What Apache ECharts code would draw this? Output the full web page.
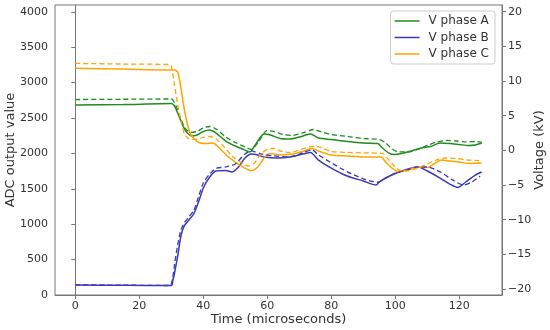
<!DOCTYPE html>
<html>
<head>
<meta charset="utf-8">
<script src="https://cdn.jsdelivr.net/npm/echarts@6/dist/echarts.min.js"></script>
<style>html,body{margin:0;padding:0;background:#fff}#c{width:550px;height:330px}</style>
</head>
<body>
<div id="c"></div>
<script>
// Tick labels
var xTicks = [0, 20, 40, 60, 80, 100, 120];
var adcTicks = [0, 500, 1000, 1500, 2000, 2500, 3000, 3500, 4000];
var kvTicks = [-20, -15, -10, -5, 0, 5, 10, 15, 20];

// Series names
var names = ['V phase A', 'V phase B', 'V phase C'];

// Phase A - ADC (solid, left axis)
var tA = [0,15,30,31,32,33,34,35,36.5,38,40,42,44,47,50,53,54.5,56,59,61,64,67,70,73.5,76,80,85,90,94.5,96,98,99.5,102,105,108,111,114,117,120,123,125,127];
var adcA = [2683,2690,2704,2669,2570,2457,2358,2287,2245,2259,2309,2330,2287,2175,2104,2047,2019,2104,2273,2259,2210,2203,2231,2273,2217,2196,2168,2146,2139,2076,2005,1984,1998,2033,2076,2097,2146,2139,2125,2111,2118,2146];
// Phase A - voltage (dashed, right axis)
var tAd = [0,15,30,30.5,31.5,32.5,33.5,34.5,36,38,40,42,44,47,50,53,55,57,60,62,65,68,71,74.5,77,80,85,90,95,97,99,101,104,107,110,113,116,119,122,125,127];
var kvA = [7.33,7.37,7.41,7.26,6.4,5.1,3.95,3.08,2.58,2.72,3.23,3.44,3.08,1.93,1.14,0.49,0.13,1.07,2.87,2.72,2.29,2.15,2.51,3.01,2.65,2.29,2.0,1.71,1.57,1.07,0.2,-0.23,-0.23,0.13,0.71,1.21,1.43,1.35,1.21,1.28,1.14];

// Phase B
var tB = [0,15,30,30.5,31,32,33,34,35.5,37,38.5,40,42,44,47,49,51,53,55,57,59,63,67,71,73.5,76,80,85,90,94,95,97,100,104,107,110,114,117,119.5,122,125,127];
var adcB = [141,138,134,212,311,551,833,974,1059,1144,1313,1511,1666,1751,1758,1737,1807,1934,1991,1977,1949,1934,1949,1991,2012,1906,1793,1680,1610,1553,1596,1652,1716,1779,1812,1751,1652,1567,1518,1596,1694,1737];
var tBd = [0,15,29.5,30.3,31,32,33,34,35.5,37,38.5,40,42,44,47,50,53,55,58,62,67,71,74,76,80,85,90,94.5,97,100,104,107,110,114,118,121.3,124,126.5];
var kvB = [-19.4,-19.45,-19.5,-18.7,-16.5,-13.6,-11.5,-10.5,-9.6,-8.7,-6.7,-4.7,-3.4,-2.6,-2.4,-1.96,-0.52,-0.09,-0.5,-0.8,-0.95,-0.37,0.06,-0.66,-1.8,-3.1,-4.1,-4.6,-4.0,-3.3,-2.8,-2.4,-2.4,-3.1,-4.3,-5.0,-4.55,-3.7];

// Phase C
var tC = [0,15,30,31,32,33,34,35,36,37.5,39,41,43,45,47.5,50,53,55,57,59.5,61,64,68,71,74,76,80,85,90,95.5,97,99,101,104,107,110,112,114.5,117,120,123,127];
var adcC = [3201,3191,3177,3177,3149,2923,2640,2415,2273,2189,2146,2139,2146,2076,1963,1878,1793,1758,1807,1963,1998,1977,1991,2026,2069,2033,1977,1963,1949,1949,1878,1793,1744,1765,1807,1800,1850,1906,1892,1878,1857,1864];
var tCd = [0,15,29.5,30,31,32,33,34,35.5,37.5,40,42,44,46.5,49,52,54,56,58,60,62,64.5,67,71,75,77,80,85,90,96,98,100,102,104,107,110,113,116,119,122,125,127];
var kvC = [12.55,12.45,12.38,12.16,9.42,6.54,4.24,2.51,1.64,1.57,1.86,2.0,1.64,0.49,-0.81,-1.82,-2.25,-1.82,-0.52,0.13,0.27,-0.16,-0.3,0.2,0.63,0.35,-0.16,-0.3,-0.37,-0.45,-1.38,-2.39,-2.97,-2.97,-2.54,-1.96,-1.38,-1.1,-1.17,-1.38,-1.46,-1.53];

var colors = ['#1e8c1e', '#3a3ab8', '#ffa500'];

function zip(t, v) { return t.map(function (x, i) { return [x, v[i]]; }); }

var FONT = 'DejaVu Sans';
var TXT = '#333';
var AX = '#777';

var solids = [[tA, adcA], [tB, adcB], [tC, adcC]];
var dashes = [[tAd, kvA], [tBd, kvB], [tCd, kvC]];
var series = [];
solids.forEach(function (s, i) {
  series.push({
    name: names[i], type: 'line', yAxisIndex: 0, data: zip(s[0], s[1]),
    showSymbol: false, symbol: 'none', smooth: 0.25, animation: false,
    lineStyle: { color: colors[i], width: 1.5 }, itemStyle: { color: colors[i] }
  });
});
dashes.forEach(function (s, i) {
  series.push({
    name: names[i] + ' (kV)', type: 'line', yAxisIndex: 1, data: zip(s[0], s[1]),
    showSymbol: false, symbol: 'none', smooth: 0.25, animation: false,
    lineStyle: { color: colors[i], width: 1.3, type: [5, 3] }, itemStyle: { color: colors[i] }
  });
});

function plain(v) { return v < 0 ? '\u2212' + Math.abs(v) : String(v); }

var chart = echarts.init(document.getElementById('c'), null, { renderer: 'canvas' });
chart.setOption({
  animation: false,
  backgroundColor: '#fff',
  textStyle: { fontFamily: FONT },
  grid: { left: 55, right: 48, top: 5, bottom: 35, containLabel: false, outerBoundsMode: 'none',
    show: true, borderColor: AX, borderWidth: 1, backgroundColor: 'transparent' },
  legend: {
    data: names, orient: 'vertical', right: 55, top: 11,
    icon: 'rect', itemWidth: 25, itemHeight: 1.5, itemGap: 4.5,
    padding: [4, 6, 4, 4],
    borderColor: '#ccc', borderWidth: 1, borderRadius: 3, backgroundColor: '#fff',
    textStyle: { fontFamily: FONT, fontSize: 12, color: TXT, padding: [0, 0, 0, 4] }
  },
  xAxis: {
    type: 'value', min: -6.35, max: 133.35,
    name: 'Time (microseconds)', nameLocation: 'middle', nameGap: 18, nameMoveOverlap: false,
    nameTextStyle: { fontFamily: FONT, fontSize: 13, color: TXT },
    axisLine: { show: true, lineStyle: { color: AX } },
    axisTick: { show: true, length: 4, lineStyle: { color: AX }, customValues: xTicks },
    axisLabel: { fontFamily: FONT, fontSize: 11, color: TXT, margin: 6, customValues: xTicks, formatter: plain },
    splitLine: { show: false }
  },
  yAxis: [{
    type: 'value', min: 0, max: 4096, position: 'left',
    name: 'ADC output value', nameLocation: 'middle', nameGap: 38, nameRotate: 90, nameMoveOverlap: false,
    nameTextStyle: { fontFamily: FONT, fontSize: 13, color: TXT },
    axisLine: { show: true, lineStyle: { color: AX } },
    axisTick: { show: true, length: 4, lineStyle: { color: AX }, customValues: adcTicks },
    axisLabel: { fontFamily: FONT, fontSize: 11, color: TXT, margin: 7, customValues: adcTicks, formatter: plain },
    splitLine: { show: false }
  }, {
    type: 'value', min: -20.87, max: 20.97, position: 'right',
    name: 'Voltage (kV)', nameLocation: 'middle', nameGap: 31, nameRotate: 90, nameMoveOverlap: false,
    nameTextStyle: { fontFamily: FONT, fontSize: 13, color: TXT },
    axisLine: { show: true, lineStyle: { color: AX } },
    axisTick: { show: true, length: 4, lineStyle: { color: AX }, customValues: kvTicks },
    axisLabel: { fontFamily: FONT, fontSize: 11, color: TXT, margin: 6, customValues: kvTicks, formatter: plain },
    splitLine: { show: false }
  }],
  series: series
});
</script>
</body>
</html>
